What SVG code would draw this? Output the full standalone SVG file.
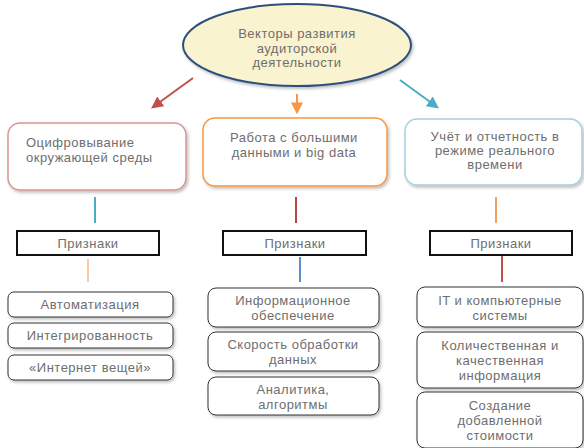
<svg xmlns="http://www.w3.org/2000/svg" width="584" height="448" viewBox="0 0 584 448">
<defs>
<style>
text{font-family:"Liberation Sans",Arial,sans-serif;font-size:13px;fill:#6e6e6e;text-anchor:middle;letter-spacing:0.5px}
.main{fill:#fff;stroke-width:1.5}
.attr{fill:#fff;stroke:#111;stroke-width:2}
.item{fill:#fff;stroke:#333;stroke-width:1}
.ln{stroke-width:2;fill:none}
</style>
<filter id="sh" x="-10%" y="-20%" width="125%" height="150%">
<feDropShadow dx="1.5" dy="2" stdDeviation="1.5" flood-color="#000" flood-opacity="0.25"/>
</filter>
<marker id="mr" viewBox="0 0 10 10" refX="8" refY="5" markerWidth="6" markerHeight="6" orient="auto"><path d="M0,0L10,5L0,10z" fill="#c0504d"/></marker>
<marker id="mo" viewBox="0 0 10 10" refX="8" refY="5" markerWidth="6" markerHeight="6" orient="auto"><path d="M0,0L10,5L0,10z" fill="#f79646"/></marker>
<marker id="mb" viewBox="0 0 10 10" refX="8" refY="5" markerWidth="6" markerHeight="6" orient="auto"><path d="M0,0L10,5L0,10z" fill="#4bacc6"/></marker>
</defs>
<rect width="584" height="448" fill="#fff"/>
<g id="root">
<ellipse cx="297" cy="45" rx="114" ry="41" fill="#faf3cf" stroke="#2d4f7c" stroke-width="2" filter="url(#sh)"/>
<text x="297" y="38">Векторы развития</text>
<text x="297" y="53">аудиторской</text>
<text x="297" y="67">деятельности</text>
</g>
<g id="connectors">
<line class="ln" x1="193" y1="78" x2="153" y2="107" stroke="#c0504d" marker-end="url(#mr)"/>
<line class="ln" x1="297" y1="94" x2="297" y2="112" stroke="#f79646" marker-end="url(#mo)"/>
<line class="ln" x1="400" y1="80" x2="437" y2="107" stroke="#4bacc6" marker-end="url(#mb)"/>
<line class="ln" x1="95" y1="197" x2="95" y2="223" stroke="#4bacc6"/>
<line class="ln" x1="88" y1="259" x2="88" y2="282" stroke="#fbc9a3"/>
<line class="ln" x1="296" y1="197" x2="296" y2="223" stroke="#b84545"/>
<line class="ln" x1="300" y1="257" x2="300" y2="282" stroke="#5b8fd0"/>
<line class="ln" x1="496" y1="197" x2="496" y2="223" stroke="#f0a060"/>
<line class="ln" x1="502" y1="255" x2="502" y2="282" stroke="#c0504d"/>
</g>
<g id="n1">
<rect class="main" x="8" y="123" width="178" height="67" rx="12" stroke="#d99594" filter="url(#sh)"/>
<text x="26" y="147" style="text-anchor:start">Оцифровывание</text>
<text x="26" y="162" style="text-anchor:start">окружающей среды</text>
</g>
<g id="n2">
<rect class="main" x="203" y="118" width="184" height="68" rx="12" stroke="#f79646" filter="url(#sh)"/>
<text x="294" y="142">Работа с большими</text>
<text x="294" y="157">данными и big data</text>
</g>
<g id="n3">
<rect class="main" x="405" y="119" width="177" height="66" rx="12" stroke="#a5d0e0" filter="url(#sh)"/>
<text x="495" y="141">Учёт и отчетность в</text>
<text x="495" y="155">режиме реального</text>
<text x="495" y="169">времени</text>
</g>
<g id="a1">
<rect class="attr" x="17" y="231" width="142" height="24"/>
<text x="88" y="248">Признаки</text>
</g>
<g id="a2">
<rect class="attr" x="223" y="231" width="143" height="24"/>
<text x="295" y="248">Признаки</text>
</g>
<g id="a3">
<rect class="attr" x="430" y="231" width="142" height="24"/>
<text x="501" y="248">Признаки</text>
</g>
<g id="i11">
<rect class="item" x="8" y="292" width="165" height="25" rx="6" filter="url(#sh)"/>
<text x="90" y="309">Автоматизация</text>
</g>
<g id="i12">
<rect class="item" x="8" y="323" width="165" height="25" rx="6" filter="url(#sh)"/>
<text x="90" y="340">Интегрированность</text>
</g>
<g id="i13">
<rect class="item" x="8" y="355" width="165" height="25" rx="6" filter="url(#sh)"/>
<text x="90" y="372">«Интернет вещей»</text>
</g>
<g id="i21">
<rect class="item" x="208" y="288" width="171" height="39" rx="8" filter="url(#sh)"/>
<text x="293" y="305">Информационное</text>
<text x="293" y="320">обеспечение</text>
</g>
<g id="i22">
<rect class="item" x="208" y="332" width="171" height="39" rx="8" filter="url(#sh)"/>
<text x="293" y="349">Скорость обработки</text>
<text x="293" y="364">данных</text>
</g>
<g id="i23">
<rect class="item" x="208" y="377" width="171" height="38" rx="8" filter="url(#sh)"/>
<text x="293" y="394">Аналитика,</text>
<text x="293" y="409">алгоритмы</text>
</g>
<g id="i31">
<rect class="item" x="417" y="287" width="166" height="40" rx="8" filter="url(#sh)"/>
<text x="500" y="305">IT и компьютерные</text>
<text x="500" y="320">системы</text>
</g>
<g id="i32">
<rect class="item" x="417" y="332" width="166" height="56" rx="8" filter="url(#sh)"/>
<text x="500" y="350">Количественная и</text>
<text x="500" y="365">качественная</text>
<text x="500" y="380">информация</text>
</g>
<g id="i33">
<rect class="item" x="417" y="392" width="166" height="56" rx="8" filter="url(#sh)"/>
<text x="500" y="410">Создание</text>
<text x="500" y="425">добавленной</text>
<text x="500" y="440">стоимости</text>
</g>
</svg>
